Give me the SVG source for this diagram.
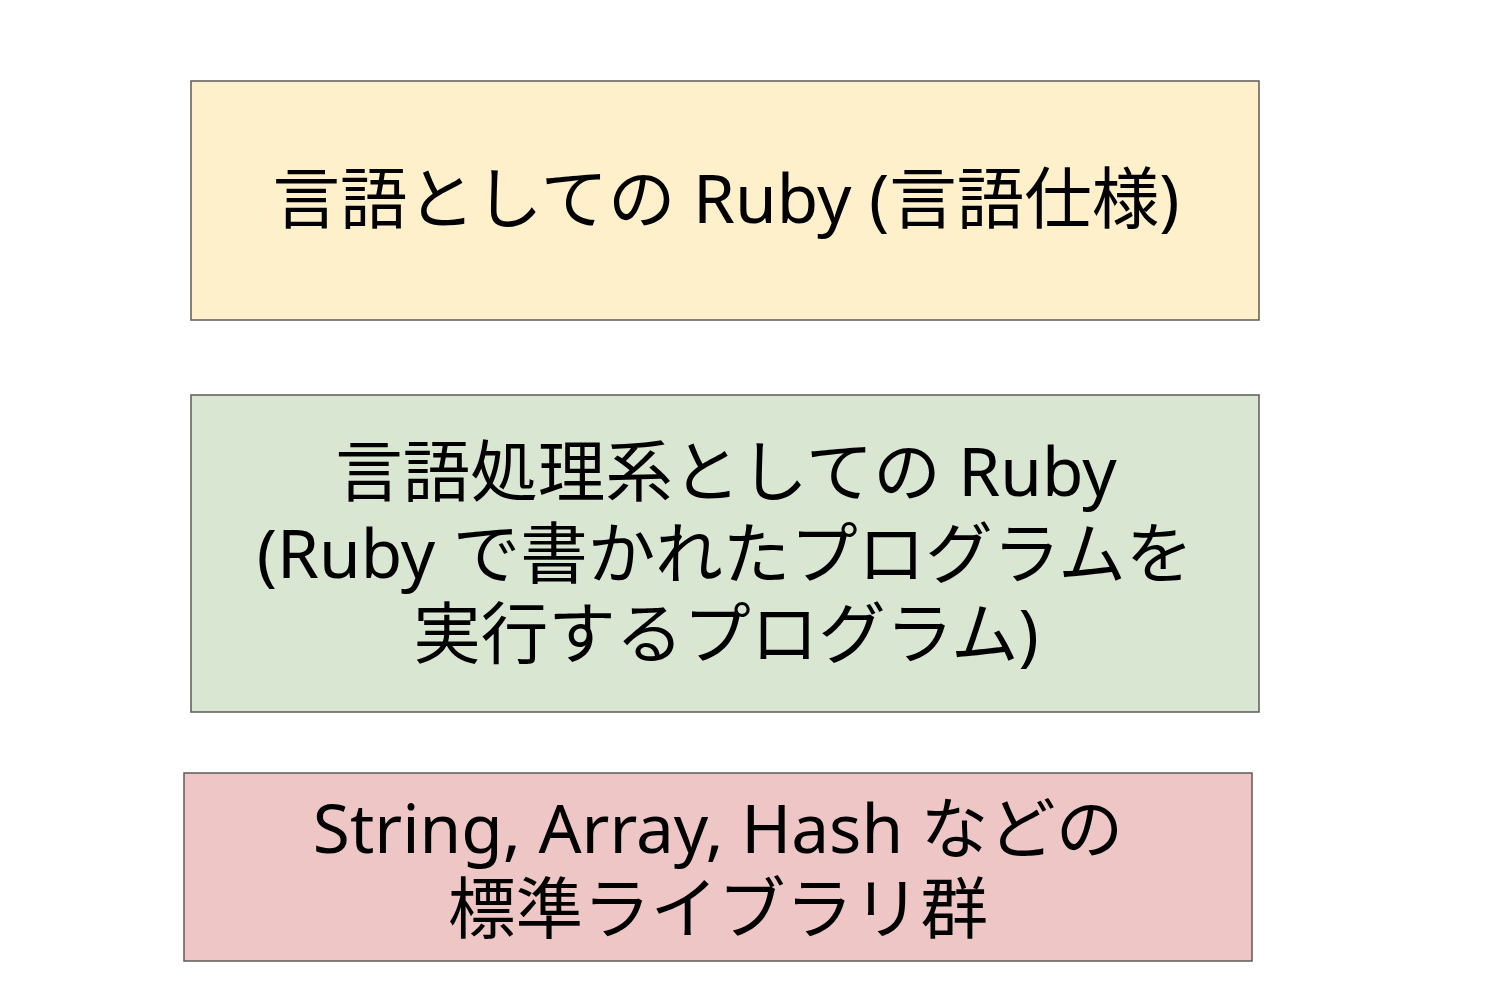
<svg xmlns="http://www.w3.org/2000/svg" width="1508" height="1007" viewBox="0 0 1508 1007">
<style>
.box{stroke:#5f5a55;stroke-width:1.5}
.t{font-family:"Noto Sans","Noto Sans CJK JP",sans-serif;font-size:67.5px;fill:#000;text-anchor:middle}
</style>
<rect width="1508" height="1007" fill="#ffffff"/>
<g id="node-spec">
<rect class="box" x="191" y="81" width="1068" height="239" fill="#fff0cc"/>
<text class="t" x="726" y="223">言語としての Ruby (言語仕様)</text>
</g>
<g id="node-impl">
<rect class="box" x="191" y="395" width="1068" height="317" fill="#d8e6d2"/>
<text class="t" x="726" y="496">言語処理系としての Ruby</text>
<text class="t" x="725" y="578">(Ruby で書かれたプログラムを</text>
<text class="t" x="726" y="658">実行するプログラム)</text>
</g>
<g id="node-lib">
<rect class="box" x="184" y="773" width="1068" height="188" fill="#efc6c6"/>
<text class="t" x="718" y="853">String, Array, Hash などの</text>
<text class="t" x="718" y="933">標準ライブラリ群</text>
</g>
<g id="connectors"></g>
</svg>
